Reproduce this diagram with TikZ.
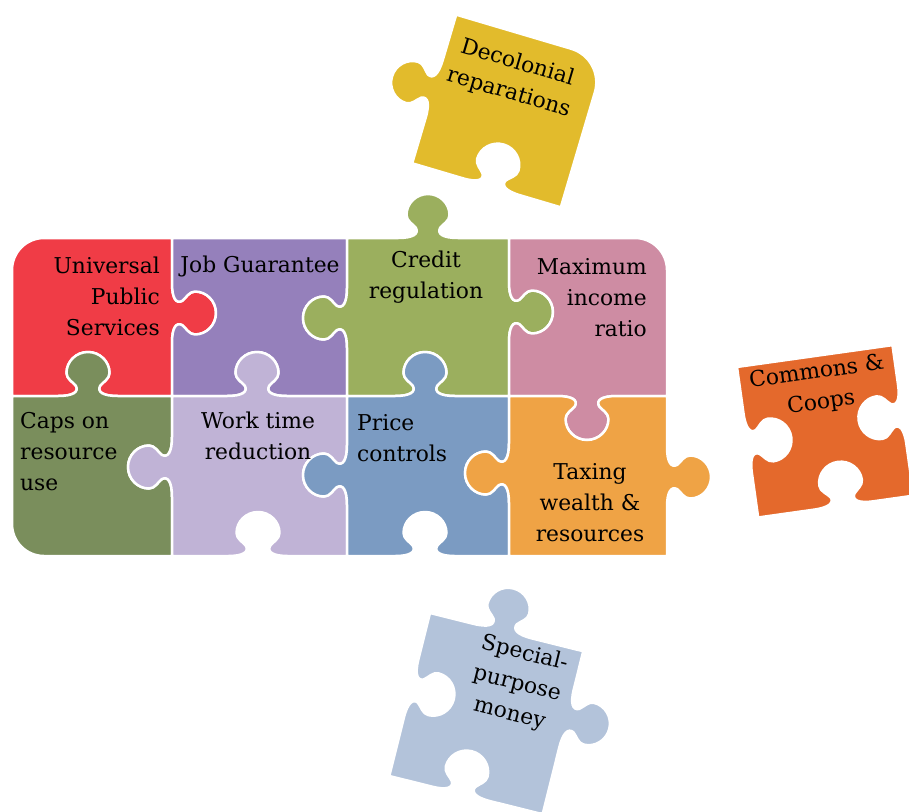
\documentclass[tikz,border=0pt]{standalone}
\usepackage{fontspec}
\setmainfont{DejaVu Serif}
\definecolor{cUPS}{RGB}{240,60,70}
\definecolor{cJob}{RGB}{149,128,187}
\definecolor{cCre}{RGB}{155,175,94}
\definecolor{cMax}{RGB}{206,140,163}
\definecolor{cCap}{RGB}{122,142,92}
\definecolor{cWor}{RGB}{192,179,214}
\definecolor{cPri}{RGB}{123,155,194}
\definecolor{cTax}{RGB}{239,163,69}
\definecolor{cDec}{RGB}{226,187,44}
\definecolor{cCom}{RGB}{228,105,44}
\definecolor{cSpe}{RGB}{179,195,218}
\newcommand\lblfont{\fontsize{21.8}{31}\selectfont}
% tab profile: centre (#1,#2), edge direction (#3,#4), bulge direction (#5,#6)
\newcommand\tabp[6]{%
 -- ({#1+(-30)*(#3)},{#2+(-30)*(#4)})
 .. controls ({#1+(-15)*(#3)},{#2+(-15)*(#4)}) and ({#1+(-9)*(#3)+(4)*(#5)},{#2+(-9)*(#4)+(4)*(#6)}) .. ({#1+(-12)*(#3)+(10)*(#5)},{#2+(-12)*(#4)+(10)*(#6)})
 .. controls ({#1+(-15)*(#3)+(14)*(#5)},{#2+(-15)*(#4)+(14)*(#6)}) and ({#1+(-21.5)*(#3)+(17)*(#5)},{#2+(-21.5)*(#4)+(17)*(#6)}) .. ({#1+(-21.5)*(#3)+(23)*(#5)},{#2+(-21.5)*(#4)+(23)*(#6)})
 .. controls ({#1+(-21.5)*(#3)+(34.6)*(#5)},{#2+(-21.5)*(#4)+(34.6)*(#6)}) and ({#1+(-11.8)*(#3)+(44)*(#5)},{#2+(-11.8)*(#4)+(44)*(#6)}) .. ({#1+(44)*(#5)},{#2+(44)*(#6)})
 .. controls ({#1+(11.8)*(#3)+(44)*(#5)},{#2+(11.8)*(#4)+(44)*(#6)}) and ({#1+(21.5)*(#3)+(34.6)*(#5)},{#2+(21.5)*(#4)+(34.6)*(#6)}) .. ({#1+(21.5)*(#3)+(23)*(#5)},{#2+(21.5)*(#4)+(23)*(#6)})
 .. controls ({#1+(21.5)*(#3)+(17)*(#5)},{#2+(21.5)*(#4)+(17)*(#6)}) and ({#1+(15)*(#3)+(14)*(#5)},{#2+(15)*(#4)+(14)*(#6)}) .. ({#1+(12)*(#3)+(10)*(#5)},{#2+(12)*(#4)+(10)*(#6)})
 .. controls ({#1+(9)*(#3)+(4)*(#5)},{#2+(9)*(#4)+(4)*(#6)}) and ({#1+(15)*(#3)},{#2+(15)*(#4)}) .. ({#1+(30)*(#3)},{#2+(30)*(#4)})
}
\begin{document}
\begin{tikzpicture}[x=1pt,y=-1pt,
  piece/.style={draw=white, line width=2.5pt, line join=round},
  lbl/.style={font=\lblfont, inner sep=0pt, text=black}]
\useasboundingbox (0,0) rectangle (909,811);
% main grid
\path[piece, fill=cUPS] (12,270) .. controls (12,252.3) and (26.3,238) .. (44,238) -- (172,238)
  \tabp{172}{313}{0}{1}{1}{0} -- (172,396) \tabp{88}{396}{-1}{0}{0}{-1} -- (12,396) -- cycle;
\path[piece, fill=cJob] (172,238) -- (347,238) \tabp{347}{318}{0}{1}{-1}{0} -- (347,396)
  \tabp{257}{396}{-1}{0}{0}{-1} -- (172,396) \tabp{172}{313}{0}{-1}{1}{0} -- cycle;
\path[piece, fill=cCre] (347,238) \tabp{428}{238}{1}{0}{0}{-1} -- (509,238) \tabp{509}{312}{0}{1}{1}{0}
  -- (509,396) \tabp{425}{396}{-1}{0}{0}{-1} -- (347,396) \tabp{347}{318}{0}{-1}{-1}{0} -- cycle;
\path[piece, fill=cMax] (509,238) -- (635,238) .. controls (652.7,238) and (667,252.3) .. (667,270)
  -- (667,396) \tabp{587}{396}{-1}{0}{0}{1} -- (509,396) \tabp{509}{312}{0}{-1}{1}{0} -- cycle;
\path[piece, fill=cCap] (12,396) \tabp{88}{396}{1}{0}{0}{-1} -- (172,396) \tabp{172}{467}{0}{1}{-1}{0}
  -- (172,556) -- (44,556) .. controls (26.3,556) and (12,541.7) .. (12,524) -- cycle;
\path[piece, fill=cWor] (172,396) \tabp{257}{396}{1}{0}{0}{-1} -- (347,396) \tabp{347}{475}{0}{1}{-1}{0}
  -- (347,556) \tabp{258}{556}{-1}{0}{0}{-1} -- (172,556) \tabp{172}{467}{0}{-1}{-1}{0} -- cycle;
\path[piece, fill=cPri] (347,396) \tabp{425}{396}{1}{0}{0}{-1} -- (509,396) \tabp{509}{473}{0}{1}{-1}{0}
  -- (509,556) \tabp{425}{556}{-1}{0}{0}{-1} -- (347,556) \tabp{347}{475}{0}{-1}{-1}{0} -- cycle;
\path[piece, fill=cTax] (509,396) \tabp{587}{396}{1}{0}{0}{1} -- (667,396) \tabp{667}{477}{0}{1}{1}{0}
  -- (667,556) -- (509,556) \tabp{509}{473}{0}{-1}{-1}{0} -- cycle;
% loose pieces
\begin{scope}[shift={(508.5,111)}, rotate=-16.5]
\path[piece, fill=cDec] (-77.5,-77.5) -- (42.5,-77.5) .. controls (61.8,-77.5) and (77.5,-61.8) .. (77.5,-42.5)
  -- (77.5,77.5) \tabp{5}{77.5}{-1}{0}{0}{-1} -- (-77.5,77.5) \tabp{-77.5}{0}{0}{-1}{-1}{0} -- cycle;
\end{scope}
\begin{scope}[shift={(825.3,431.3)}, rotate=8]
\path[piece, fill=cCom] (-78.5,-76) -- (78.5,-76) \tabp{78.5}{-6}{0}{1}{-1}{0} -- (78.5,76)
  \tabp{8}{76}{-1}{0}{0}{-1} -- (-78.5,76) \tabp{-78.5}{1}{0}{-1}{1}{0} -- cycle;
\end{scope}
\begin{scope}[shift={(486.3,713.6)}, rotate=-14]
\path[piece, fill=cSpe] (-79,-84) \tabp{-4}{-84}{1}{0}{0}{-1} -- (79,-84) \tabp{79}{-15}{0}{1}{1}{0}
  -- (79,84) \tabp{-5}{84}{-1}{0}{0}{-1} -- (-79,84) \tabp{-79}{-6}{0}{-1}{1}{0} -- cycle;
\end{scope}
% labels
\node[lbl, anchor=east, align=right] (ups) at (160,296) {Universal\\Public\\Services};
\node[lbl] (job) at (260,266) {Job Guarantee};
\node[lbl, align=center] (cre) at (426,277) {Credit\\regulation};
\node[lbl, anchor=east, align=right] (max) at (647,298) {Maximum\\income\\ratio};
\node[lbl, anchor=west, align=left] (cap) at (20,452) {Caps on\\resource\\use};
\node[lbl, align=center] (wor) at (258,436) {Work time\\reduction};
\node[lbl, anchor=west, align=left] (pri) at (357,438) {Price\\controls};
\node[lbl, align=center] (tax) at (590,503) {Taxing\\wealth \&\\resources};
\node[lbl, align=center, rotate=-16.5] (dec) at (513,78) {Decolonial\\reparations};
\node[lbl, align=center, rotate=8] (com) at (819,388) {Commons \&\\Coops};
\node[lbl, align=center, rotate=-14] (spe) at (517,684) {Special-\\purpose\\money};
\end{tikzpicture}
\end{document}
